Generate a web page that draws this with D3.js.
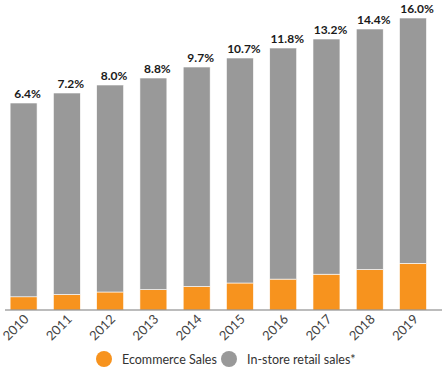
<!DOCTYPE html>
<html>
<head>
<meta charset="utf-8">
<script src="https://cdn.jsdelivr.net/npm/d3@7"></script>
<style>
  body { margin: 0; background: #fff; }
  svg { display: block; font-family: Lato, "Open Sans", sans-serif; }
</style>
</head>
<body>
<div id="chart"></div>
<script>
'use strict';

var years = ['2010', '2011', '2012', '2013', '2014', '2015', '2016', '2017', '2018', '2019'];
var ecommerce = [13.2, 15.6, 18.0, 20.4, 23.6, 27.0, 30.9, 35.8, 40.5, 46.7];
var inStore = [193.8, 201.4, 207.0, 211.6, 219.4, 225.0, 231.1, 235.2, 240.5, 245.3];
var shareLabels = ['6.4%', '7.2%', '8.0%', '8.8%', '9.7%', '10.7%', '11.8%', '13.2%', '14.4%', '16.0%'];
var legendLabels = ['Ecommerce Sales', 'In-store retail sales*'];

var colors = ['#f7931e', '#999999'];

var width = 442;
var height = 372;

var svg = d3.select('#chart')
    .append('svg')
    .attr('width', width)
    .attr('height', height);

var x = d3.scaleBand()
    .domain(years)
    .range([-0.7, 437.3])
    .paddingInner(0.377)
    .paddingOuter(0.25);

var y = d3.scaleLinear()
    .domain([0, 300])
    .range([310, 10]);

var rows = years.map(function(yr, i) {
    return { year: yr, ecommerce: ecommerce[i], inStore: inStore[i], label: shareLabels[i] };
});

var stack = d3.stack().keys(['ecommerce', 'inStore']);
var series = stack(rows);

svg.selectAll('g.series')
    .data(series)
    .enter()
    .append('g')
    .attr('class', 'series')
    .attr('fill', function(d, i) { return colors[i]; })
    .selectAll('rect')
    .data(function(d) { return d; })
    .enter()
    .append('rect')
    .attr('x', function(d) { return x(d.data.year); })
    .attr('width', x.bandwidth())
    .attr('y', function(d) { return y(d[1]); })
    .attr('height', function(d) { return y(d[0]) - y(d[1]); })
    .attr('stroke', '#fff')
    .attr('stroke-width', 0.6);

// percent labels
svg.selectAll('text.share')
    .data(rows)
    .enter()
    .append('text')
    .attr('class', 'share')
    .attr('x', function(d) { return x(d.year) + x.bandwidth() / 2 + 4; })
    .attr('y', function(d) { return y(d.ecommerce + d.inStore) - 5; })
    .attr('text-anchor', 'middle')
    .attr('font-size', '12px')
    .attr('font-weight', 'bold')
    .attr('fill', '#1a1a1a')
    .text(function(d) { return d.label; });

// x axis
var xAxis = svg.append('g')
    .attr('transform', 'translate(0,' + y(0) + ')')
    .call(d3.axisBottom(x).tickSize(0).tickPadding(0));

xAxis.select('.domain').remove();
xAxis.append('line')
    .attr('x1', 5)
    .attr('x2', 442)
    .attr('stroke', '#7a7a7a')
    .attr('stroke-width', 1.2);

xAxis.selectAll('.tick text')
    .attr('font-family', 'Lato, sans-serif')
    .attr('font-size', '13px')
    .attr('fill', '#444')
    .attr('text-anchor', 'end')
    .attr('dy', 0)
    .attr('transform', 'translate(6,10) rotate(-45)');

// legend
var legend = svg.selectAll('g.legend')
    .data(legendLabels)
    .enter()
    .append('g')
    .attr('class', 'legend')
    .attr('transform', function(d, i) {
        return 'translate(' + (i === 0 ? 104 : 229) + ',359)';
    });

legend.append('circle')
    .attr('r', 8)
    .attr('fill', function(d, i) { return colors[i]; });

legend.append('text')
    .attr('x', 18)
    .attr('y', 4.5)
    .attr('font-size', '12.5px')
    .attr('fill', '#333')
    .text(function(d) { return d; });
</script>
</body>
</html>
